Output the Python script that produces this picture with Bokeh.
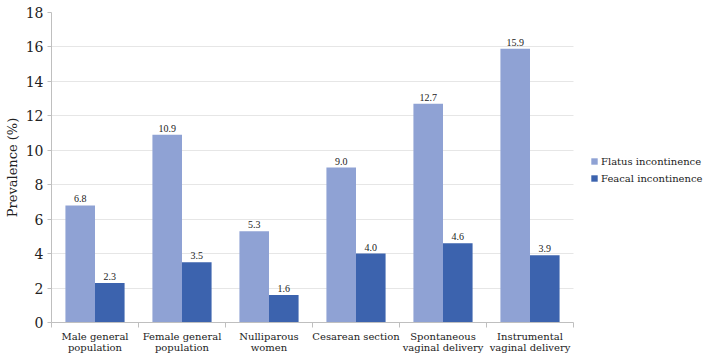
from bokeh.plotting import figure
from bokeh.models import ColumnDataSource, FixedTicker, Legend, LegendItem, Range1d
from bokeh.embed import file_html
from bokeh.resources import INLINE

categories = ["Male general\npopulation", "Female general\npopulation", "Nulliparous\nwomen",
              "Cesarean section", "Spontaneous\nvaginal delivery", "Instrumental\nvaginal delivery"]
flatus = [6.8, 10.9, 5.3, 9.0, 12.7, 15.9]
feacal = [2.3, 3.5, 1.6, 4.0, 4.6, 3.9]
series_names = ["Flatus incontinence", "Feacal incontinence"]
y_ticks = list(range(0, 19, 2))

FONT = "DejaVu Serif"
TEXT = "#222222"
LIGHT = "#8FA2D4"
DARK = "#3C63AE"
BAR_W = 0.34

W, H = 704, 356
LEFT, RIGHT, TOP, BOTTOM = 51, 0, 12, 33
FRAME_W = W - LEFT - RIGHT
BAR_AREA_W = 522  # pixels used by the six category slots; the rest holds the legend

n = len(categories)
centers = [i + 0.5 for i in range(n)]
x_end = n * FRAME_W / BAR_AREA_W

p = figure(width=W, height=H, output_backend="svg", toolbar_location=None,
           x_range=Range1d(0, x_end), y_range=Range1d(0, 18),
           min_border_left=LEFT, min_border_right=RIGHT, min_border_top=TOP, min_border_bottom=BOTTOM)
p.outline_line_color = None
p.background_fill_color = "white"
p.border_fill_color = "white"

src_fl = ColumnDataSource(dict(x=[c - BAR_W / 2 for c in centers], top=flatus,
                               lbl=[f"{v:.1f}" for v in flatus]))
src_fe = ColumnDataSource(dict(x=[c + BAR_W / 2 for c in centers], top=feacal,
                               lbl=[f"{v:.1f}" for v in feacal]))

r1 = p.vbar(x="x", top="top", width=BAR_W, source=src_fl, fill_color=LIGHT, line_color=None)
r2 = p.vbar(x="x", top="top", width=BAR_W, source=src_fe, fill_color=DARK, line_color=None)

for src in (src_fl, src_fe):
    p.text(x="x", y="top", text="lbl", source=src, text_align="center", text_baseline="bottom",
           y_offset=-3, text_font=FONT, text_font_size="10px", text_color=TEXT)

# x axis: category names at centres, short ticks at category boundaries
xa = p.xaxis[0]
xa.bounds = (0, n)
xa.ticker = FixedTicker(ticks=centers, minor_ticks=list(range(n + 1)))
xa.major_label_overrides = {c: lab for c, lab in zip(centers, categories)}
xa.major_tick_out = 0
xa.major_tick_in = 0
xa.minor_tick_out = 5
xa.minor_tick_in = 0
xa.minor_tick_line_color = "#bfbfbf"
xa.axis_line_color = "#bfbfbf"
xa.major_label_text_font = FONT
xa.major_label_text_font_size = "10px"
xa.major_label_text_color = TEXT
xa.major_label_standoff = 3
xa.major_label_text_line_height = 1.05

ya = p.yaxis[0]
ya.ticker = FixedTicker(ticks=y_ticks)
ya.minor_tick_line_color = None
ya.major_tick_out = 4
ya.major_tick_in = 0
ya.major_tick_line_color = "#bfbfbf"
ya.axis_line_color = "#bfbfbf"
ya.major_label_text_font = FONT
ya.major_label_text_font_size = "14px"
ya.major_label_text_color = TEXT
ya.major_label_standoff = 4
ya.axis_label = "Prevalence (%)"
ya.axis_label_text_font = FONT
ya.axis_label_text_font_style = "normal"
ya.axis_label_text_font_size = "13px"
ya.axis_label_text_color = TEXT
ya.axis_label_standoff = 3

p.xgrid.grid_line_color = None
p.ygrid.grid_line_color = "#e6e6e6"
p.ygrid.ticker = FixedTicker(ticks=y_ticks)
p.ygrid.cross_bounds = (0, n)

legend = Legend(items=[LegendItem(label=series_names[0], renderers=[r1]),
                       LegendItem(label=series_names[1], renderers=[r2])],
                location=(539, 137), orientation="vertical",
                background_fill_alpha=0, border_line_color=None,
                label_text_font=FONT, label_text_font_size="10px", label_text_color=TEXT,
                glyph_width=8, glyph_height=8, spacing=3, padding=0, margin=0,
                label_standoff=3, label_height=14)
p.add_layout(legend, "center")

open("out.html", "w").write(file_html(p, INLINE))
